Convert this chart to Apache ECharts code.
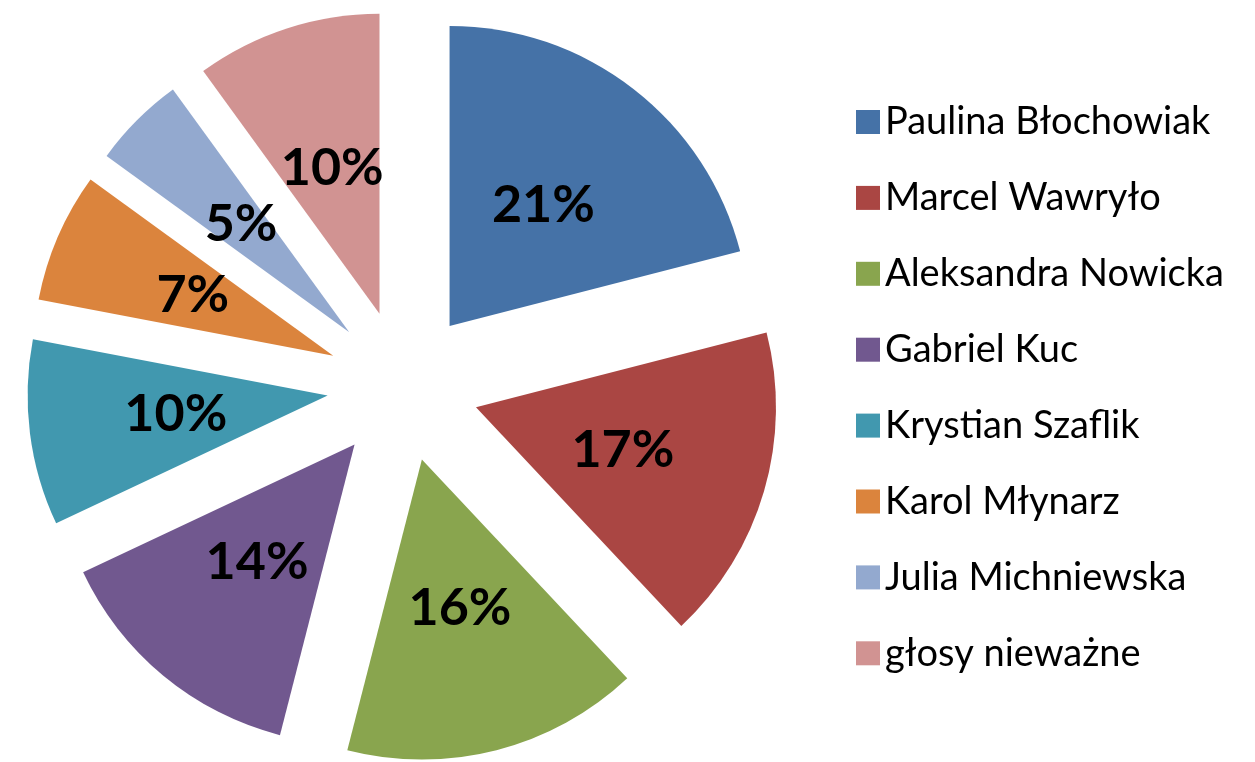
<html>
<head>
    <meta charset="UTF-8">
    <title>Głosy</title>
    <script src="https://cdn.jsdelivr.net/npm/echarts@6/dist/echarts.min.js"></script>
    <style>
        body { margin: 0; background: #fff; }
    </style>
</head>
<body>
    <div id="pie" style="width:1255px; height:762px;"></div>
    <script>
        var names = ['Paulina Błochowiak', 'Marcel Wawryło', 'Aleksandra Nowicka', 'Gabriel Kuc',
                     'Krystian Szaflik', 'Karol Młynarz', 'Julia Michniewska', 'głosy nieważne'];
        var shares = [21, 17, 16, 14, 10, 7, 5, 10];
        var colors = ['#4572A7', '#AA4643', '#89A54E', '#71588F', '#4198AF', '#DB843D', '#93A9CF', '#D19392'];

        var data = [];
        for (var i = 0; i < names.length; i++) {
            data.push({ name: names[i], value: shares[i], selected: true });
        }

        var pie = echarts.init(document.getElementById('pie'), null, { renderer: 'canvas' });
        pie.setOption({
            animation: false,
            color: colors,
            legend: {
                orient: 'vertical',
                left: 851,
                top: 98,
                icon: 'rect',
                itemWidth: 24,
                itemHeight: 24,
                itemGap: 37.9,
                selectedMode: false,
                textStyle: {
                    fontFamily: 'Lato',
                    fontSize: 38,
                    lineHeight: 36,
                    color: '#000'
                }
            },
            series: [{
                type: 'pie',
                center: [403, 386],
                radius: 300,
                startAngle: 90,
                clockwise: true,
                selectedMode: 'multiple',
                selectedOffset: 76,
                avoidLabelOverlap: false,
                labelLayout: { hideOverlap: false },
                itemStyle: { borderWidth: 0 },
                label: {
                    show: true,
                    position: 'inside',
                    formatter: '{c}%',
                    overflow: 'none',
                    fontFamily: 'Lato',
                    fontWeight: 'bold',
                    fontSize: 52,
                    color: '#000'
                },
                labelLine: { show: false },
                emphasis: { disabled: true },
                data: data
            }]
        });
    </script>
</body>
</html>
